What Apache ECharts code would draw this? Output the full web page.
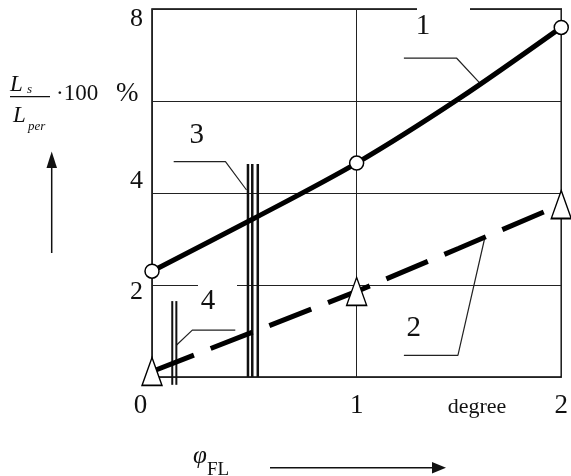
<!DOCTYPE html>
<html>
<head>
<meta charset="utf-8">
<script src="https://cdn.jsdelivr.net/npm/echarts@6/dist/echarts.min.js"></script>
<style>html,body{margin:0;padding:0;background:#fff}#c{width:571px;height:476px}</style>
</head>
<body>
<div id="c"></div>
<script>
// ---- data ----
const phi = [0, 0.5, 1, 1.5, 2];
const curve1 = [2.3, 3.45, 4.65, 6.05, 7.6];
const curve2 = [0.12, 0.99, 1.86, 2.8, 3.75];
const markerPhi = [0, 1, 2];
const xTickLabels = {0: '0', 1: '1', 2: '2'};
const yTickLabels = {2: '2', 4: '4', 8: '8'};
const line3X = [0.469, 0.49, 0.517];
const line3Y = [0, 4.63];
const line4X = [0.099, 0.119];
const line4Y = [-0.17, 1.65];
const leader1 = [[1.231, 6.93], [1.489, 6.93], [1.6, 6.4]];
const leader2 = [[1.231, 0.47], [1.495, 0.47], [1.625, 3.0]];
const leader3 = [[0.106, 4.68], [0.359, 4.68], [0.462, 4.065]];
const leader4 = [[0.407, 1.02], [0.197, 1.02], [0.119, 0.69]];
const curveLabels = ['1', '2', '3', '4'];
const curveLabelPos = [[1.324, 7.615], [1.279, 1.065], [0.219, 5.26], [0.274, 1.65]];

const SERIF = '"Liberation Serif", "Times New Roman", serif';
const INK = '#111';

function markerItems(ys, sym) {
  return phi.map((x, i) => ({ value: [x, ys[i]], symbol: markerPhi.includes(x) ? sym : 'none' }));
}
function vline(x, ys, w, clip) {
  return { type: 'line', data: [[x, ys[0]], [x, ys[1]]], symbol: 'none', clip: clip,
    lineStyle: { color: INK, width: w }, z: 4, silent: true };
}
function leader(pts) {
  return { type: 'line', data: pts, symbol: 'none', clip: false,
    lineStyle: { color: '#222', width: 1.2 }, z: 3, silent: true };
}

const series = [
  { type: 'line', data: markerItems(curve1, 'circle'), smooth: 0.3, clip: false,
    lineStyle: { color: '#000', width: 5 }, symbolSize: 14,
    itemStyle: { color: '#fff', borderColor: '#000', borderWidth: 1.5 }, z: 5 },
  { type: 'line', data: markerItems(curve2, 'triangle'), clip: false,
    lineStyle: { color: '#000', width: 5, type: [45, 18] }, symbolSize: [20, 28],
    itemStyle: { color: '#fff', borderColor: '#000', borderWidth: 1.5 }, z: 5 },
  ...line3X.map(x => vline(x, line3Y, 2.5, true)),
  ...line4X.map(x => vline(x, line4Y, 2, false)),
  leader(leader1), leader(leader2), leader(leader3), leader(leader4),
  { type: 'scatter', symbol: 'circle', symbolSize: 1, clip: false, z: 10, silent: true,
    itemStyle: { color: 'rgba(0,0,0,0)', opacity: 1 },
    data: curveLabels.map((t, i) => ({ value: curveLabelPos[i], name: t,
        label: { show: true, position: 'inside', formatter: t, color: INK, opacity: 1,
          fontFamily: SERIF, fontSize: 29, lineHeight: 29 } })) }
];

const wrect = (x, y, w, h) => ({ type: 'rect', z: 1, shape: { x: x, y: y, width: w, height: h }, style: { fill: '#fff' }, silent: true });
const T = (x, y, text, size, extra) => ({ type: 'text', x: x, y: y, style: Object.assign({ text: text, fontFamily: SERIF, fontSize: size, fill: INK,
  align: 'left', verticalAlign: 'middle', textAlign: 'left', textVerticalAlign: 'middle' }, extra || {}) });

const chart = echarts.init(document.getElementById('c'), null, { renderer: 'canvas' });
chart.setOption({
  animation: false,
  backgroundColor: '#fff',
  grid: { left: 152, right: 3, top: 9, bottom: 99, show: true, borderColor: '#000', borderWidth: 1.5, backgroundColor: 'transparent' },
  xAxis: {
    type: 'value', min: 0, max: 2, interval: 1,
    axisLine: { show: false }, axisTick: { show: false },
    splitLine: { show: true, lineStyle: { color: '#222', width: 1 } },
    axisLabel: {
      margin: 15, color: INK, fontFamily: SERIF, fontSize: 27,
      formatter: v => xTickLabels[v] === undefined ? '' : (v === 0 ? '{l|' + xTickLabels[v] + '}' : '{n|' + xTickLabels[v] + '}'),
      rich: { l: { padding: [0, 23, 0, 0], fontFamily: SERIF, fontSize: 27, color: INK }, n: { fontFamily: SERIF, fontSize: 27, color: INK } }
    }
  },
  yAxis: {
    type: 'value', min: 0, max: 8, interval: 2,
    axisLine: { show: false }, axisTick: { show: false },
    splitLine: { show: true, lineStyle: { color: '#222', width: 1 } },
    axisLabel: {
      margin: 9, color: INK, fontFamily: SERIF, fontSize: 26,
      formatter: v => {
        const t = yTickLabels[v];
        if (t === undefined) return '';
        if (v === 8) return '{d8|' + t + '}';
        if (v === 4) return '{u4|' + t + '}';
        return '{d2|' + t + '}';
      },
      rich: {
        d8: { padding: [20, 0, 0, 0], fontFamily: SERIF, fontSize: 26, color: INK },
        u4: { padding: [0, 0, 23, 0], fontFamily: SERIF, fontSize: 26, color: INK },
        d2: { padding: [15, 0, 0, 0], fontFamily: SERIF, fontSize: 26, color: INK }
      }
    }
  },
  graphic: [
    wrect(417, 6, 53, 7),
    wrect(198, 282, 39, 6),
    T(10, 85, 'L', 23, { fontStyle: 'italic' }),
    T(27, 90, 's', 13, { fontStyle: 'italic' }),
    { type: 'line', shape: { x1: 10, y1: 96.7, x2: 50, y2: 96.7 }, style: { stroke: INK, lineWidth: 1.2 } },
    T(13, 116, 'L', 23, { fontStyle: 'italic' }),
    T(28, 127, 'per', 13, { fontStyle: 'italic' }),
    T(56, 94, '\u00b7100', 23),
    T(116, 94, '%', 27),
    { type: 'line', shape: { x1: 51.7, y1: 253, x2: 51.7, y2: 166 }, style: { stroke: INK, lineWidth: 1.5 } },
    { type: 'polygon', shape: { points: [[46.5, 168], [51.7, 151.5], [57, 168]] }, style: { fill: INK } },
    T(193, 456, '\u03c6', 25, { fontStyle: 'italic' }),
    T(207, 470, 'FL', 19),
    { type: 'line', shape: { x1: 270, y1: 467.7, x2: 435, y2: 467.7 }, style: { stroke: INK, lineWidth: 1.5 } },
    { type: 'polygon', shape: { points: [[432, 462], [446, 467.7], [432, 473.5]] }, style: { fill: INK } },
    T(477, 407, 'degree', 22, { align: 'center', textAlign: 'center' })
  ],
  series: series
});
</script>
</body>
</html>
